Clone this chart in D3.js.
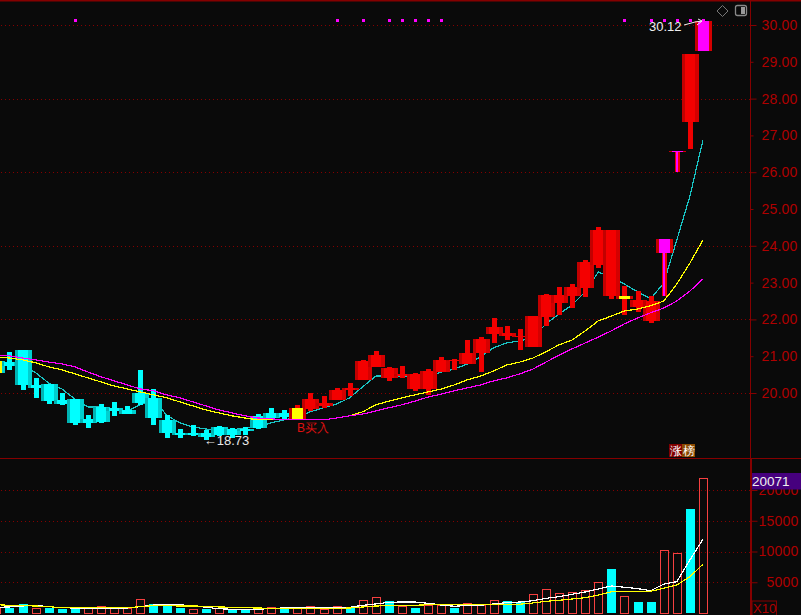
<!DOCTYPE html>
<html><head><meta charset="utf-8">
<script src="https://cdn.jsdelivr.net/npm/d3@7"></script>
<style>
html,body{margin:0;padding:0;background:#0a0a0a;overflow:hidden}
svg{display:block}
text{font-family:"Liberation Sans",Arial,sans-serif}
</style></head><body>
<svg id="c" width="801" height="615"></svg>
<script>
// ---- price data, one entry per session ----
const high  =[20.95,21.12,21.17,20.41,20.25,20.00,19.84,19.40,19.70,19.76,19.65,20.63,20.11,19.40,19.02,19.13,19.00,19.11,19.05,19.08,19.43,19.60,19.54,19.68,20.00,19.92,20.14,20.27,20.90,21.14,20.71,20.74,20.55,20.65,20.98,20.93,21.44,21.52,22.04,21.82,21.74,22.09,22.69,22.88,22.96,23.62,24.51,24.43,22.91,22.77,22.64,24.19,26.58,29.21,30.12];
const bodyTop=[20.87,20.84,21.17,20.22,20.25,19.81,19.84,19.30,19.62,19.60,19.54,20.00,19.87,19.27,18.92,18.92,18.92,19.08,19.02,19.02,19.38,19.46,19.46,19.60,19.84,19.73,20.08,20.14,20.87,21.03,20.68,20.52,20.52,20.60,20.90,20.90,21.09,21.47,21.80,21.63,21.55,22.09,22.66,22.66,22.88,23.56,24.43,24.43,22.64,22.53,22.50,24.19,26.58,29.21,30.12];
const bodyBot=[20.55,20.74,20.22,20.14,19.78,19.70,19.19,19.19,19.21,19.51,19.43,19.73,19.32,18.92,18.86,18.86,18.81,18.86,18.86,18.97,19.05,19.32,19.35,19.30,19.57,19.65,19.81,20.08,20.36,20.71,20.41,20.46,20.11,20.11,20.57,20.87,20.79,21.09,21.61,21.55,21.52,21.25,22.07,22.45,22.64,22.85,23.48,22.64,22.56,22.34,21.96,23.81,26.55,27.37,29.29];
const low   =[20.46,20.63,20.08,19.87,19.70,19.68,19.13,19.05,19.19,19.38,19.43,19.68,19.13,18.78,18.78,18.83,18.73,18.83,18.78,18.86,19.02,19.30,19.27,19.27,19.51,19.60,19.81,19.92,20.36,20.71,20.33,20.41,20.06,19.95,20.57,20.63,20.79,20.57,21.36,21.44,21.17,21.25,21.82,22.12,22.31,22.61,23.40,22.56,22.12,22.20,21.90,22.64,26.01,26.63,29.29];
const firstUpSession=23;
const ma5 =[20.82,20.84,20.74,20.55,20.27,20.11,19.84,19.62,19.62,19.57,19.51,19.68,19.84,19.40,19.19,19.08,19.02,19.00,19.00,19.05,19.08,19.19,19.27,19.35,19.49,19.60,19.70,19.87,20.17,20.46,20.46,20.46,20.44,20.46,20.57,20.65,20.79,20.98,21.23,21.36,21.42,21.50,21.88,22.15,22.39,22.75,23.29,23.13,22.96,22.75,22.56,22.99,24.16,25.35,26.88];
const ma10=[20.98,20.95,20.90,20.82,20.71,20.63,20.52,20.41,20.30,20.19,20.11,20.03,19.95,19.87,19.76,19.65,19.54,19.46,19.38,19.32,19.27,19.27,19.27,19.27,19.27,19.27,19.32,19.38,19.49,19.68,19.78,19.87,19.95,20.03,20.11,20.22,20.36,20.46,20.60,20.76,20.84,20.95,21.12,21.31,21.44,21.69,21.96,22.09,22.23,22.28,22.37,22.50,22.96,23.53,24.16];
const ma20=[21.03,21.01,20.95,20.90,20.84,20.79,20.71,20.57,20.44,20.33,20.22,20.11,20.06,19.95,19.87,19.76,19.65,19.54,19.46,19.38,19.32,19.30,19.27,19.27,19.27,19.27,19.32,19.38,19.43,19.51,19.60,19.68,19.78,19.89,19.97,20.06,20.14,20.22,20.33,20.41,20.52,20.65,20.84,21.03,21.20,21.36,21.52,21.69,21.88,22.04,22.18,22.31,22.50,22.77,23.10];
const priceTicks=[30,29,28,27,26,25,24,23,22,21,20];
const priceGrid=[30,28,26,24,22,20];
const signalSessions=[6,26,28,30,31,32,33,34,48,50,51,52,53,54];
const limitSessions=[51,52,54];
const buySession=23, pauseSession=48;
// ---- volume data ----
const volume=[980,860,1470,760,860,650,860,860,1140,760,760,2230,1470,1470,860,600,650,760,490,490,860,980,650,760,1090,600,1090,860,2060,2560,1900,1090,810,1250,1250,810,1580,1250,2060,1950,1740,3040,3860,3210,3370,3700,5000,7170,2720,1790,1790,10210,9730,16940,21990];
const volumeDown=[1,2,4,5,6,12,13,14,16,18,19,22,27,30,32,35,39,40,47,49,50,53];
const volMaWhite=[930,980,1140,1250,1030,860,810,810,810,760,810,1030,1300,1300,1300,1250,930,700,600,600,600,760,810,810,930,810,930,930,1250,1470,1740,1790,1790,1580,1300,1090,1250,1250,1470,1680,1790,2000,2390,2650,3040,3420,3910,4400,4190,3960,3630,4680,5100,8630,12000];
const volMaYellow=[1350,1250,1190,1140,1030,860,860,860,860,860,860,1030,1190,1190,1140,1140,1090,980,930,860,810,760,760,760,760,760,760,810,980,1140,1190,1190,1250,1350,1350,1350,1350,1350,1350,1350,1420,1630,1900,2060,2280,2490,2930,3470,3530,3530,3530,4020,4560,5910,7930];
const volumeTicks=[5000,10000,15000,20000];
const volumeBoxLabel="20071";

const W=801,H=615,axisX=750.5,split=458.5;
const DARK="#850000",TXT="#b00000";
const svg=d3.select("#c");
svg.append("rect").attr("width",W).attr("height",H).attr("fill","#0a0a0a");
const defs=svg.append("defs");
function grad(id,l,c,r){
  const g=defs.append("linearGradient").attr("id",id);
  [[0,l],[.18,l],[.18,c],[.78,c],[.78,r],[1,r]].forEach(s=>g.append("stop").attr("offset",s[0]).attr("stop-color",s[1]));
}
grad("gRed","#c20000","#f40000","#d40000");
grad("gCyan","#00b4b4","#00ffff","#00cfcf");

const n=high.length;
const x=d3.scaleLinear().domain([0,54]).range([-3.6,703]);
const y=d3.scaleLinear().domain([20,30]).range([393,25]);
const yv=d3.scaleLinear().domain([0,20000]).range([613,490]);
const idx=d3.range(n);
const bw=17, wick=5;

// grid
const dotted=(g,vals,sc,x0)=>g.selectAll("line.g").data(vals).join("line").attr("class","g")
  .attr("x1",x0).attr("x2",axisX).attr("y1",d=>Math.round(sc(d))+.5).attr("y2",d=>Math.round(sc(d))+.5)
  .attr("stroke",DARK).attr("stroke-dasharray","1 3");
dotted(svg.append("g"),priceGrid,y,1);
dotted(svg.append("g"),volumeTicks,yv,1);

// frame
svg.append("rect").attr("x",0).attr("y",0).attr("width",W).attr("height",1.5).attr("fill",DARK);
svg.append("line").attr("x1",0).attr("x2",W).attr("y1",split).attr("y2",split).attr("stroke",DARK).attr("stroke-width",1);
svg.append("line").attr("x1",axisX).attr("x2",axisX).attr("y1",0).attr("y2",H).attr("stroke",DARK);
svg.append("line").attr("x1",axisX+.5).attr("x2",axisX+.5).attr("y1",split).attr("y2",H).attr("stroke",DARK).attr("stroke-width",2);

// axes
function styleAxis(g){
  g.select(".domain").remove();
  g.selectAll("line").attr("stroke",DARK);
  g.selectAll("text").attr("fill",TXT).attr("font-size",14).attr("text-anchor","end").attr("x",47).attr("letter-spacing",".2px");
}
const ga=svg.append("g").attr("transform",`translate(${axisX},0)`).call(d3.axisRight(y).tickValues(priceTicks).tickFormat(d3.format(".2f")).tickSize(6));
styleAxis(ga);
ga.selectAll(".tick").filter(d=>d%2!==0).select("line").attr("x2",3);
const gv=svg.append("g").attr("transform",`translate(${axisX+1},0)`).call(d3.axisRight(yv).tickValues(volumeTicks).tickFormat(d3.format("d")).tickSize(6));
styleAxis(gv);

const priceLine=a=>d3.line().x((d,i)=>x(i)).y(d=>y(d))(a);
// short average runs behind the candles
svg.append("path").attr("d",priceLine(ma5)).attr("fill","none").attr("stroke","#19c4c4").attr("stroke-width",1.2).attr("shape-rendering","crispEdges");

// candles
const up=i=>i>=firstUpSession;
const cg=svg.append("g");
cg.selectAll("rect.w").data(idx).join("rect").attr("class","w")
  .attr("x",i=>Math.round(x(i))-2).attr("width",wick)
  .attr("y",i=>y(high[i])).attr("height",i=>y(low[i])-y(high[i]))
  .attr("fill",i=>up(i)?"#f00000":"#00ffff").attr("shape-rendering","crispEdges");
cg.selectAll("rect.b").data(idx).join("rect").attr("class","b")
  .attr("x",i=>Math.round(x(i))-8).attr("width",bw)
  .attr("y",i=>y(bodyTop[i])).attr("height",i=>Math.max(1,y(bodyBot[i])-y(bodyTop[i])))
  .attr("fill",i=>up(i)?"url(#gRed)":"url(#gCyan)").attr("shape-rendering","crispEdges");

// limit-up overlays
const ov=svg.append("g").attr("fill","#ff00ff").attr("shape-rendering","crispEdges");
ov.selectAll("rect.b").data(limitSessions).join("rect").attr("class","b")
  .attr("x",i=>Math.round(x(i))-5).attr("width",11)
  .attr("y",i=>y(bodyTop[i])).attr("height",i=>Math.max(1,y(bodyBot[i])-y(bodyTop[i])));
ov.selectAll("rect.w").data(limitSessions).join("rect").attr("class","w")
  .attr("x",i=>Math.round(x(i))-1).attr("width",2)
  .attr("y",i=>y(bodyBot[i])).attr("height",i=>y(low[i])-y(bodyBot[i]));
// buy / pause overlays
svg.append("g").attr("fill","#ffff00").attr("shape-rendering","crispEdges")
  .selectAll("rect").data([0,buySession,pauseSession]).join("rect")
  .attr("x",i=>Math.round(x(i))-5).attr("width",11)
  .attr("y",i=>y(bodyTop[i])).attr("height",i=>Math.max(1,y(bodyBot[i])-y(bodyTop[i])));

// longer averages run over the candles
const ml=svg.append("g").attr("fill","none").attr("stroke-width",1.2).attr("shape-rendering","crispEdges");
ml.append("path").attr("d",priceLine(ma10)).attr("stroke","#ffff00");
ml.append("path").attr("d",priceLine(ma20)).attr("stroke","#ff00ff");

// signal dots
svg.append("g").attr("shape-rendering","crispEdges").selectAll("rect").data(signalSessions).join("rect")
  .attr("x",i=>Math.round(x(i))-1).attr("y",19).attr("width",3).attr("height",2.5).attr("fill","#ff00ff");

// volume
const isDown=i=>volumeDown.includes(i);
const vg=svg.append("g").attr("shape-rendering","crispEdges");
vg.selectAll("rect").data(idx).join("rect")
  .attr("x",i=>Math.round(x(i))-4+(isDown(i)?0:.5)).attr("width",i=>isDown(i)?9:8)
  .attr("y",i=>Math.round(yv(volume[i]))+(isDown(i)?0:.5))
  .attr("height",i=>yv(0)-Math.round(yv(volume[i])))
  .attr("fill",i=>isDown(i)?"#00ffff":"none")
  .attr("stroke",i=>isDown(i)?"none":"#f54040");
const volLine=a=>d3.line().x((d,i)=>x(i)).y(d=>yv(d))(a);
vg.append("path").attr("d",volLine(volMaWhite)).attr("fill","none").attr("stroke","#ffffff").attr("stroke-width",1.2);
vg.append("path").attr("d",volLine(volMaYellow)).attr("fill","none").attr("stroke","#ffff00").attr("stroke-width",1.2);

// annotations
const lab=(t,px,py,c,s,a)=>svg.append("text").text(t).attr("x",px).attr("y",py).attr("fill",c).attr("font-size",s).attr("text-anchor",a||"start");
lab("←18.73",x(16)-2,445,"#e8e8e8",13);
lab("30.12",649,31,"#f0f0f0",13);
svg.append("path").attr("d",`M684 25L695 22L${x(54)-1} 21M${x(54)-5} 19L${x(54)-1} 21L${x(54)-6} 25`).attr("fill","none").attr("stroke","#f0f0f0");
lab("B买入",297,432,"#e01010",12).attr("font-family","'Noto Sans CJK SC','Liberation Sans',sans-serif").attr("font-weight",300);

// 涨榜 tags
[["涨",669,"#800000"],["榜",682,"#8b4a00"]].forEach(d=>{
  svg.append("rect").attr("x",d[1]).attr("y",444).attr("width",13).attr("height",13).attr("fill",d[2]);
  lab(d[0],d[1]+.5,455,"#ffffff",12).attr("font-family","'Noto Sans CJK SC',sans-serif");
});

// value box
svg.append("rect").attr("x",752).attr("y",473).attr("width",49).attr("height",16.5).attr("fill","#46007e");
lab(volumeBoxLabel,752,486,"#f0f0f0",13.5);
// X10 box
svg.append("rect").attr("x",752).attr("y",601).attr("width",24.5).attr("height",15).attr("fill","#0a0a0a").attr("stroke",DARK);
lab("X10",753,613,TXT,13);

// top icons
svg.append("path").attr("d","M722.5 5.5L728 11L722.5 16.5L717 11Z").attr("fill","none").attr("stroke","#777");
svg.append("rect").attr("x",735.5).attr("y",5.5).attr("width",11).attr("height",10).attr("rx",2).attr("fill","#0a0a0a").attr("stroke","#888").attr("stroke-width",1.3);
svg.append("rect").attr("x",741).attr("y",7).attr("width",4).attr("height",7).attr("fill","#999");
</script></body></html>
